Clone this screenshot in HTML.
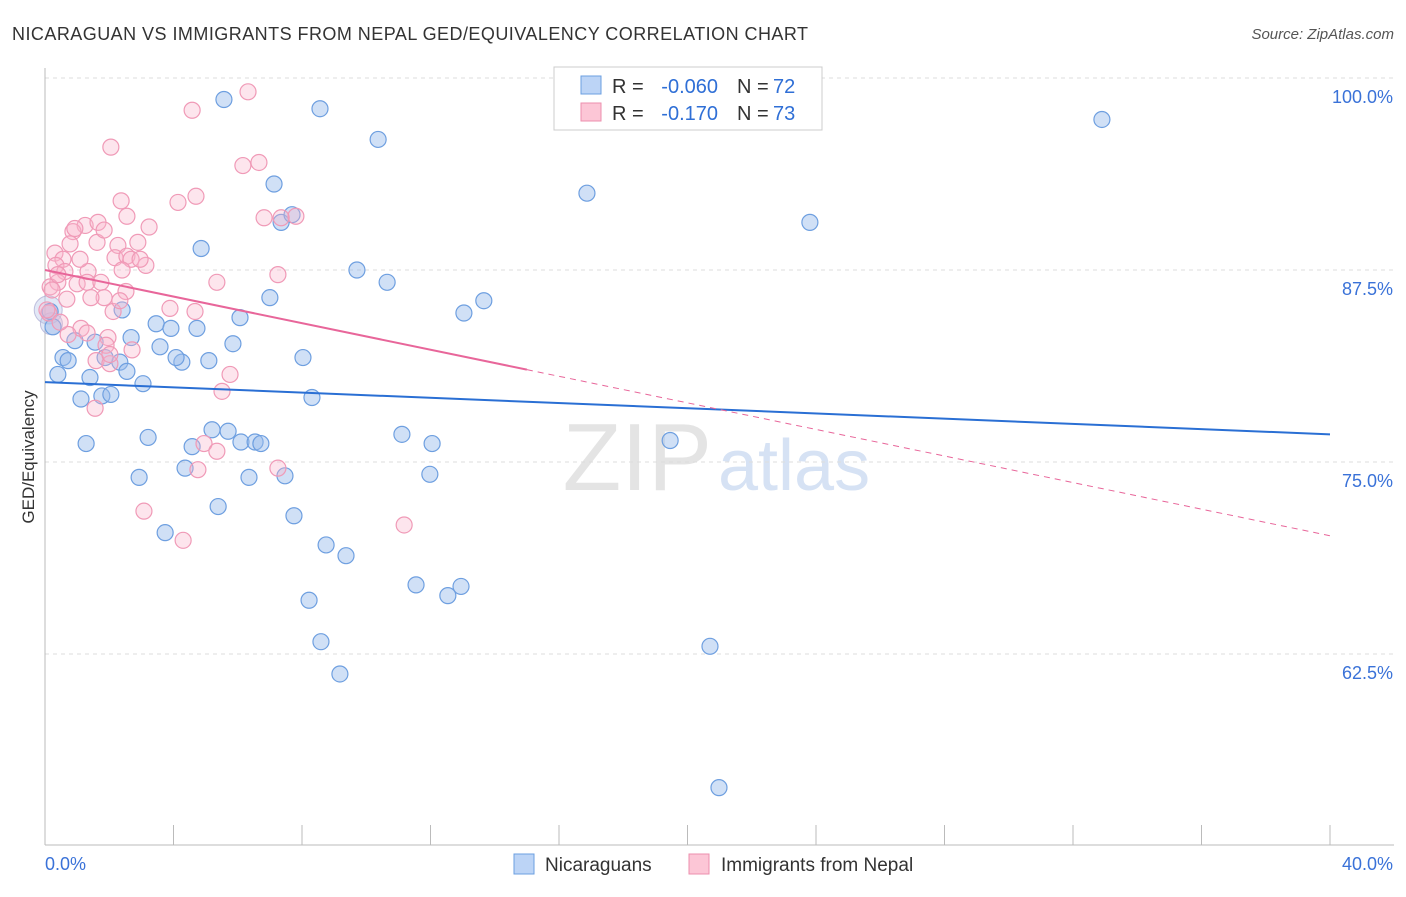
<!DOCTYPE html>
<html><head><meta charset="utf-8"><style>
body{margin:0;background:#fff;font-family:"Liberation Sans",sans-serif}
svg text{font-family:"Liberation Sans",sans-serif}
</style></head><body>
<svg id="chart" width="1406" height="892" xmlns="http://www.w3.org/2000/svg">
<text x="12" y="40" font-size="18" fill="#333" textLength="796" lengthAdjust="spacing">NICARAGUAN VS IMMIGRANTS FROM NEPAL GED/EQUIVALENCY CORRELATION CHART</text>
<text x="1394" y="39" font-size="15" fill="#555" font-style="italic" text-anchor="end">Source: ZipAtlas.com</text>
<text x="712" y="490" font-size="96" fill="#e4e4e4" text-anchor="end" font-family="Liberation Serif">ZIP</text>
<text x="718" y="490" font-size="72" fill="#d6e2f4">atlas</text>
<text transform="translate(34,457) rotate(-90)" font-size="17" fill="#333" text-anchor="middle">GED/Equivalency</text>
<g id="grid"></g><g id="axes"></g><g id="marks"></g><g id="trends"></g>
<g>
<rect x="554" y="67" width="268" height="63" fill="#fff" stroke="#ccc"/>
<rect x="581" y="76" width="20" height="18" fill="#bcd4f6" stroke="#6b9fe0"/>
<rect x="581" y="103" width="20" height="18" fill="#fcc6d6" stroke="#ec8fae"/>
<text x="612" y="93" font-size="20" fill="#333">R =</text>
<text x="718" y="93" font-size="20" fill="#2f6fd6" text-anchor="end">-0.060</text>
<text x="737" y="93" font-size="20" fill="#333">N =</text>
<text x="773" y="93" font-size="20" fill="#2f6fd6">72</text>
<text x="612" y="120" font-size="20" fill="#333">R =</text>
<text x="718" y="120" font-size="20" fill="#2f6fd6" text-anchor="end">-0.170</text>
<text x="737" y="120" font-size="20" fill="#333">N =</text>
<text x="773" y="120" font-size="20" fill="#2f6fd6">73</text>
</g>
<g>
<rect x="514" y="854" width="20" height="20" fill="#bcd4f6" stroke="#6b9fe0"/>
<text x="545" y="871" font-size="19" fill="#333">Nicaraguans</text>
<rect x="689" y="854" width="20" height="20" fill="#fcc6d6" stroke="#ec8fae"/>
<text x="721" y="871" font-size="19" fill="#333">Immigrants from Nepal</text>
</g>
</svg>
<script>
const yTicks=[100,87.5,75,62.5];
const yTickLabels=["100.0%","87.5%","75.0%","62.5%"];
const xEndLabels=["0.0%","40.0%"];
const blueX=[5.57,8.56,10.37,32.9,7.13,16.87,7.35,7.69,23.81,4.86,9.71,10.65,7.0,13.66,13.04,6.07,2.4,3.46,3.92,4.73,0.25,0.16,2.68,1.56,3.58,5.85,0.93,0.56,0.72,2.33,1.87,4.26,4.08,5.1,8.03,0.4,1.4,2.55,3.05,1.12,1.77,2.05,8.31,1.28,3.21,4.58,5.2,5.7,6.1,6.54,6.72,11.11,12.05,19.46,4.36,2.93,6.35,7.47,11.98,5.39,7.75,3.74,8.75,9.37,11.55,12.95,12.54,8.22,8.59,20.7,9.18,20.98];
const blueY=[98.6,98.0,96.0,97.3,93.1,92.5,90.6,91.1,90.6,88.9,87.5,86.7,85.7,85.5,84.7,84.4,84.9,84.0,83.7,83.7,83.8,84.8,83.1,82.8,82.5,82.7,82.9,81.8,81.6,81.5,81.8,81.5,81.8,81.6,81.8,80.7,80.5,80.9,80.1,79.1,79.3,79.4,79.2,76.2,76.6,76.0,77.1,77.0,76.3,76.3,76.2,76.8,76.2,76.4,74.6,74.0,74.0,74.1,74.2,72.1,71.5,70.4,69.6,68.9,67.0,66.9,66.3,66.0,63.3,63.0,61.2,53.8];
const pinkX=[6.32,4.58,2.05,6.16,6.66,2.37,4.7,4.14,2.55,6.82,7.81,7.35,3.24,1.25,1.65,0.87,0.93,0.78,1.62,2.89,2.27,0.31,0.56,2.18,2.55,2.68,3.14,0.34,0.62,1.34,2.4,7.25,5.35,0.4,1.0,1.31,1.74,0.16,0.68,1.84,2.52,3.89,4.67,2.12,0.12,1.12,1.31,0.72,1.96,1.9,2.71,1.59,2.02,5.76,5.51,1.56,4.95,5.35,7.25,4.76,3.08,4.3,11.18,2.02,0.06,0.47,0.22,1.43,1.84,1.09,2.96,2.33,0.4];
const pinkY=[99.1,97.9,95.5,94.3,94.5,92.0,92.3,91.9,91.0,90.9,91.0,90.9,90.3,90.4,90.6,90.0,90.2,89.2,89.3,89.3,89.1,88.6,88.2,88.3,88.4,88.2,87.8,87.8,87.4,87.4,87.5,87.2,86.7,86.7,86.6,86.7,86.7,86.4,85.6,85.7,86.1,85.0,84.8,84.8,84.7,83.7,83.4,83.3,83.1,82.6,82.3,81.6,81.4,80.7,79.6,78.5,76.2,75.7,74.6,74.5,71.8,69.9,70.9,82.0,84.9,84.1,86.2,85.7,90.1,88.2,88.2,85.5,87.2];
const blueTrend=[80.2,76.8];
const pinkTrend=[87.5,70.2];
const pinkSolidEnd=15;

const NS="http://www.w3.org/2000/svg";
const X0=45,X1=1330,Y100=78,PXPER=15.36;
const xs=v=>X0+(v/40)*(X1-X0);
const ys=v=>Y100+(100-v)*PXPER;
function mk(tag,attrs,parent){const e=document.createElementNS(NS,tag);for(const k in attrs)e.setAttribute(k,attrs[k]);document.getElementById(parent).appendChild(e);return e;}

yTicks.forEach((t,i)=>{
  const l=mk('line',{x1:X0,x2:1394,y1:ys(t),y2:ys(t),stroke:'#ddd','stroke-dasharray':'4,4'},'grid');
  
  
  const tx=mk('text',{x:1393,y:ys(t)+25,'font-size':18,fill:'#3a72d8','text-anchor':'end'},'axes');
  tx.textContent=yTickLabels[i];
  
  
});
const ya=mk('line',{x1:X0,x2:X0,y1:68,y2:845,stroke:'#bbb'},'axes');


const xa=mk('line',{x1:X0,x2:1394,y1:845,y2:845,stroke:'#bbb'},'axes');


for(let i=0;i<=10;i++){
  const t=mk('line',{x1:xs(i*4),x2:xs(i*4),y1:825,y2:845,stroke:'#bbb'},'axes');
  
  
}
const xl0=mk('text',{x:45,y:870,'font-size':18,fill:'#3a72d8'},'axes');xl0.textContent=xEndLabels[0];


const xl1=mk('text',{x:1393,y:870,'font-size':18,fill:'#3a72d8','text-anchor':'end'},'axes');xl1.textContent=xEndLabels[1];



[[0.1,84.9,14],[0.2,84.0,11]].forEach(b=>{
  const c=mk('circle',{cx:xs(b[0]),cy:ys(b[1]),r:b[2],fill:'rgba(190,205,235,0.45)',stroke:'rgba(170,170,210,0.7)'},'marks');
  
  
});
blueX.forEach((x,i)=>{
  const c=mk('circle',{cx:xs(x),cy:ys(blueY[i]),r:8,fill:'rgba(150,186,236,0.45)',stroke:'#6e9fe0','stroke-width':1.2},'marks');
  
  
});
pinkX.forEach((x,i)=>{
  const c=mk('circle',{cx:xs(x),cy:ys(pinkY[i]),r:8,fill:'rgba(249,180,202,0.35)',stroke:'#f09ab7','stroke-width':1.2},'marks');
  
  
});
const bt=mk('line',{x1:xs(0),y1:ys(blueTrend[0]),x2:xs(40),y2:ys(blueTrend[1]),stroke:'#2a6fd4','stroke-width':2},'trends');


const pm=pinkTrend[0]+(pinkTrend[1]-pinkTrend[0])*pinkSolidEnd/40;
const pt=mk('line',{x1:xs(0),y1:ys(pinkTrend[0]),x2:xs(pinkSolidEnd),y2:ys(pm),stroke:'#e8669a','stroke-width':2},'trends');


const pd=mk('line',{x1:xs(pinkSolidEnd),y1:ys(pm),x2:xs(40),y2:ys(pinkTrend[1]),stroke:'#e8669a','stroke-width':1,'stroke-dasharray':'6,5'},'trends');


</script>
</body></html>
